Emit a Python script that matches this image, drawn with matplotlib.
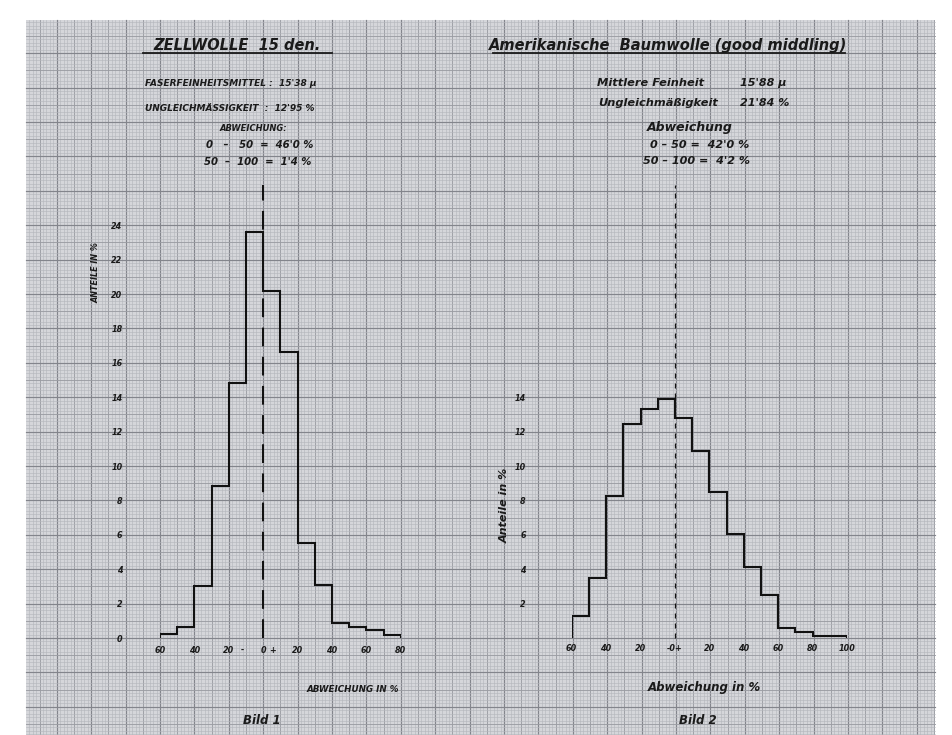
import numpy as np
import matplotlib
matplotlib.use("Agg")
import matplotlib.pyplot as plt
from matplotlib.patches import Rectangle

# ---------------- data ----------------
left_edges = np.arange(-60, 81, 10)
left_values = [0.25, 0.63, 3.0, 8.85, 14.8, 23.6, 20.2, 16.6, 5.5, 3.1, 0.87, 0.63, 0.44, 0.15]
left_yticks = list(range(0, 25, 2))
left_xticks = [-60, -40, -20, -11.8, 0, 5.6, 20, 40, 60, 80]
left_xticklabels = ["60", "40", "20", "-", "0", "+", "20", "40", "60", "80"]

right_edges = np.arange(-60, 101, 10)
right_values = [1.29, 3.47, 8.23, 12.47, 13.29, 13.87, 12.81, 10.89, 8.48, 6.07,
                4.14, 2.50, 0.58, 0.33, 0.13, 0.10]
right_yticks = list(range(2, 15, 2))
right_xticks = [-60, -40, -20, 0, 20, 40, 60, 80, 100]
right_xticklabels = ["60", "40", "20", "-0+", "20", "40", "60", "80", "100"]

W, H = 953, 735
fig = plt.figure(figsize=(W / 100, H / 100), dpi=100)
fig.patch.set_facecolor("white")

# ---------------- paper background ----------------
bg = fig.add_axes([0, 0, 1, 1])
bg.set_xlim(0, W)
bg.set_ylim(H, 0)
bg.axis("off")
px0, py0, px1, py1 = 26, 20, 935, 735
paper = Rectangle((px0, py0), px1 - px0, py1 - py0, facecolor="#d5d6da", edgecolor="none", zorder=0)
bg.add_patch(paper)

major = 34.4
gx0, gy0 = 160.0, 638.0
minor = major / 10
kx = np.arange(-60, 300)
xs = gx0 + kx * minor
ks = np.arange(-300, 60)
ys = gy0 + ks * minor


def grid_style(k):
    if k % 10 == 0:
        return "#83858c", 0.85
    if k % 5 == 0:
        return "#9b9da3", 0.65
    return "#b4b6bc", 0.42


for k, x in zip(kx, xs):
    if px0 < x < px1:
        c, lw = grid_style(k)
        bg.plot([x, x], [py0, py1], color=c, lw=lw, zorder=1)
for k, y in zip(ks, ys):
    if py0 < y < py1:
        c, lw = grid_style(k)
        bg.plot([px0, px1], [y, y], color=c, lw=lw, zorder=1)

# ---------------- texts (titles / statistics) ----------------
hand = dict(family="DejaVu Sans", fontweight="bold", fontstyle="italic", color="#1a1a1a")
bg.text(237, 45, "ZELLWOLLE  15 den.", fontsize=10.5, ha="center", va="center", zorder=5, **hand)
bg.plot([143, 332], [53, 53], color="#1a1a1a", lw=1.3, zorder=5)
bg.text(145, 83, "FASERFEINHEITSMITTEL :  15'38 μ", fontsize=6.5, ha="left", va="center", zorder=5, **hand)
bg.text(145, 108, "UNGLEICHMÄSSIGKEIT  :  12'95 %", fontsize=6.5, ha="left", va="center", zorder=5, **hand)
bg.text(253, 128, "ABWEICHUNG:", fontsize=6, ha="center", va="center", zorder=5, **hand)
bg.text(260, 145, "0   –   50  =  46'0 %", fontsize=7.3, ha="center", va="center", zorder=5, **hand)
bg.text(258, 162, "50  –  100  =  1'4 %", fontsize=7.3, ha="center", va="center", zorder=5, **hand)

bg.text(668, 45, "Amerikanische  Baumwolle (good middling)", fontsize=10.5, ha="center", va="center", zorder=5, **hand)
bg.plot([493, 845], [53, 53], color="#1a1a1a", lw=1.3, zorder=5)
bg.text(597, 83, "Mittlere Feinheit", fontsize=8.2, ha="left", va="center", zorder=5, **hand)
bg.text(740, 83, "15'88 μ", fontsize=8, ha="left", va="center", zorder=5, **hand)
bg.text(598, 103, "Ungleichmäßigkeit", fontsize=8.2, ha="left", va="center", zorder=5, **hand)
bg.text(740, 103, "21'84 %", fontsize=8, ha="left", va="center", zorder=5, **hand)
bg.text(690, 127, "Abweichung", fontsize=9, ha="center", va="center", zorder=5, **hand)
bg.text(700, 145, "0 – 50 =  42'0 %", fontsize=8, ha="center", va="center", zorder=5, **hand)
bg.text(697, 161, "50 – 100 =  4'2 %", fontsize=8, ha="center", va="center", zorder=5, **hand)

bg.text(96, 273, "ANTEILE IN %", fontsize=5.8, rotation=90, ha="center", va="center", zorder=5, **hand)
bg.text(353, 690, "ABWEICHUNG IN %", fontsize=6.3, ha="center", va="center", zorder=5, **hand)
bg.text(262, 720, "Bild 1", fontsize=8.5, ha="center", va="center", zorder=5, **hand)

bg.text(505, 505, "Anteile in %", fontsize=8, rotation=90, ha="center", va="center", zorder=5, **hand)
bg.text(704, 687, "Abweichung in %", fontsize=8.5, ha="center", va="center", zorder=5, **hand)
bg.text(698, 720, "Bild 2", fontsize=8.5, ha="center", va="center", zorder=5, **hand)

# ---------------- data axes ----------------
xu = major / 20.0   # px per x unit
yu = major / 2.0    # px per y unit


def make_axes(x_left_px, x_min, x_max, y_max):
    w = (x_max - x_min) * xu
    h = y_max * yu
    ax = fig.add_axes([x_left_px / W, 1 - gy0 / H, w / W, h / H])
    ax.set_xlim(x_min, x_max)
    ax.set_ylim(0, y_max)
    ax.patch.set_alpha(0)
    for s in ax.spines.values():
        s.set_visible(False)
    return ax


tick_font = dict(family="DejaVu Sans", weight="bold", style="italic", size=5.8)

axl = make_axes(160.0, -60, 80, 24)
axl.stairs(left_values, left_edges, baseline=0, fill=False, color="#111111", lw=1.5, zorder=3)
axl.plot([0, 0], [0, (gy0 - 185) / yu], color="#111111", lw=1.5,
         linestyle=(0, (9, 5)), clip_on=False, zorder=3)
axl.set_yticks(left_yticks)
axl.set_yticklabels([str(v) for v in left_yticks], fontdict=tick_font, color="#1a1a1a")
axl.set_xticks(left_xticks)
axl.set_xticklabels(left_xticklabels, fontdict=tick_font, color="#1a1a1a")
axl.tick_params(axis="y", length=0, pad=27)
axl.tick_params(axis="x", length=0, pad=6)

axr = make_axes(571.7, -60, 100, 14)
axr.stairs(right_values, right_edges, baseline=0, fill=False, color="#111111", lw=1.5, zorder=3)
axr.plot([0, 0], [0, (gy0 - 185) / yu], color="#111111", lw=0.9,
         linestyle=(0, (4, 4)), clip_on=False, zorder=3)
axr.set_yticks(right_yticks)
axr.set_yticklabels([str(v) for v in right_yticks], fontdict=tick_font, color="#1a1a1a")
axr.set_xticks(right_xticks)
axr.set_xticklabels(right_xticklabels, fontdict=tick_font, color="#1a1a1a")
axr.tick_params(axis="y", length=0, pad=33)
axr.tick_params(axis="x", length=0, pad=4.5)

fig.savefig("out.png", dpi=100, facecolor="white")
